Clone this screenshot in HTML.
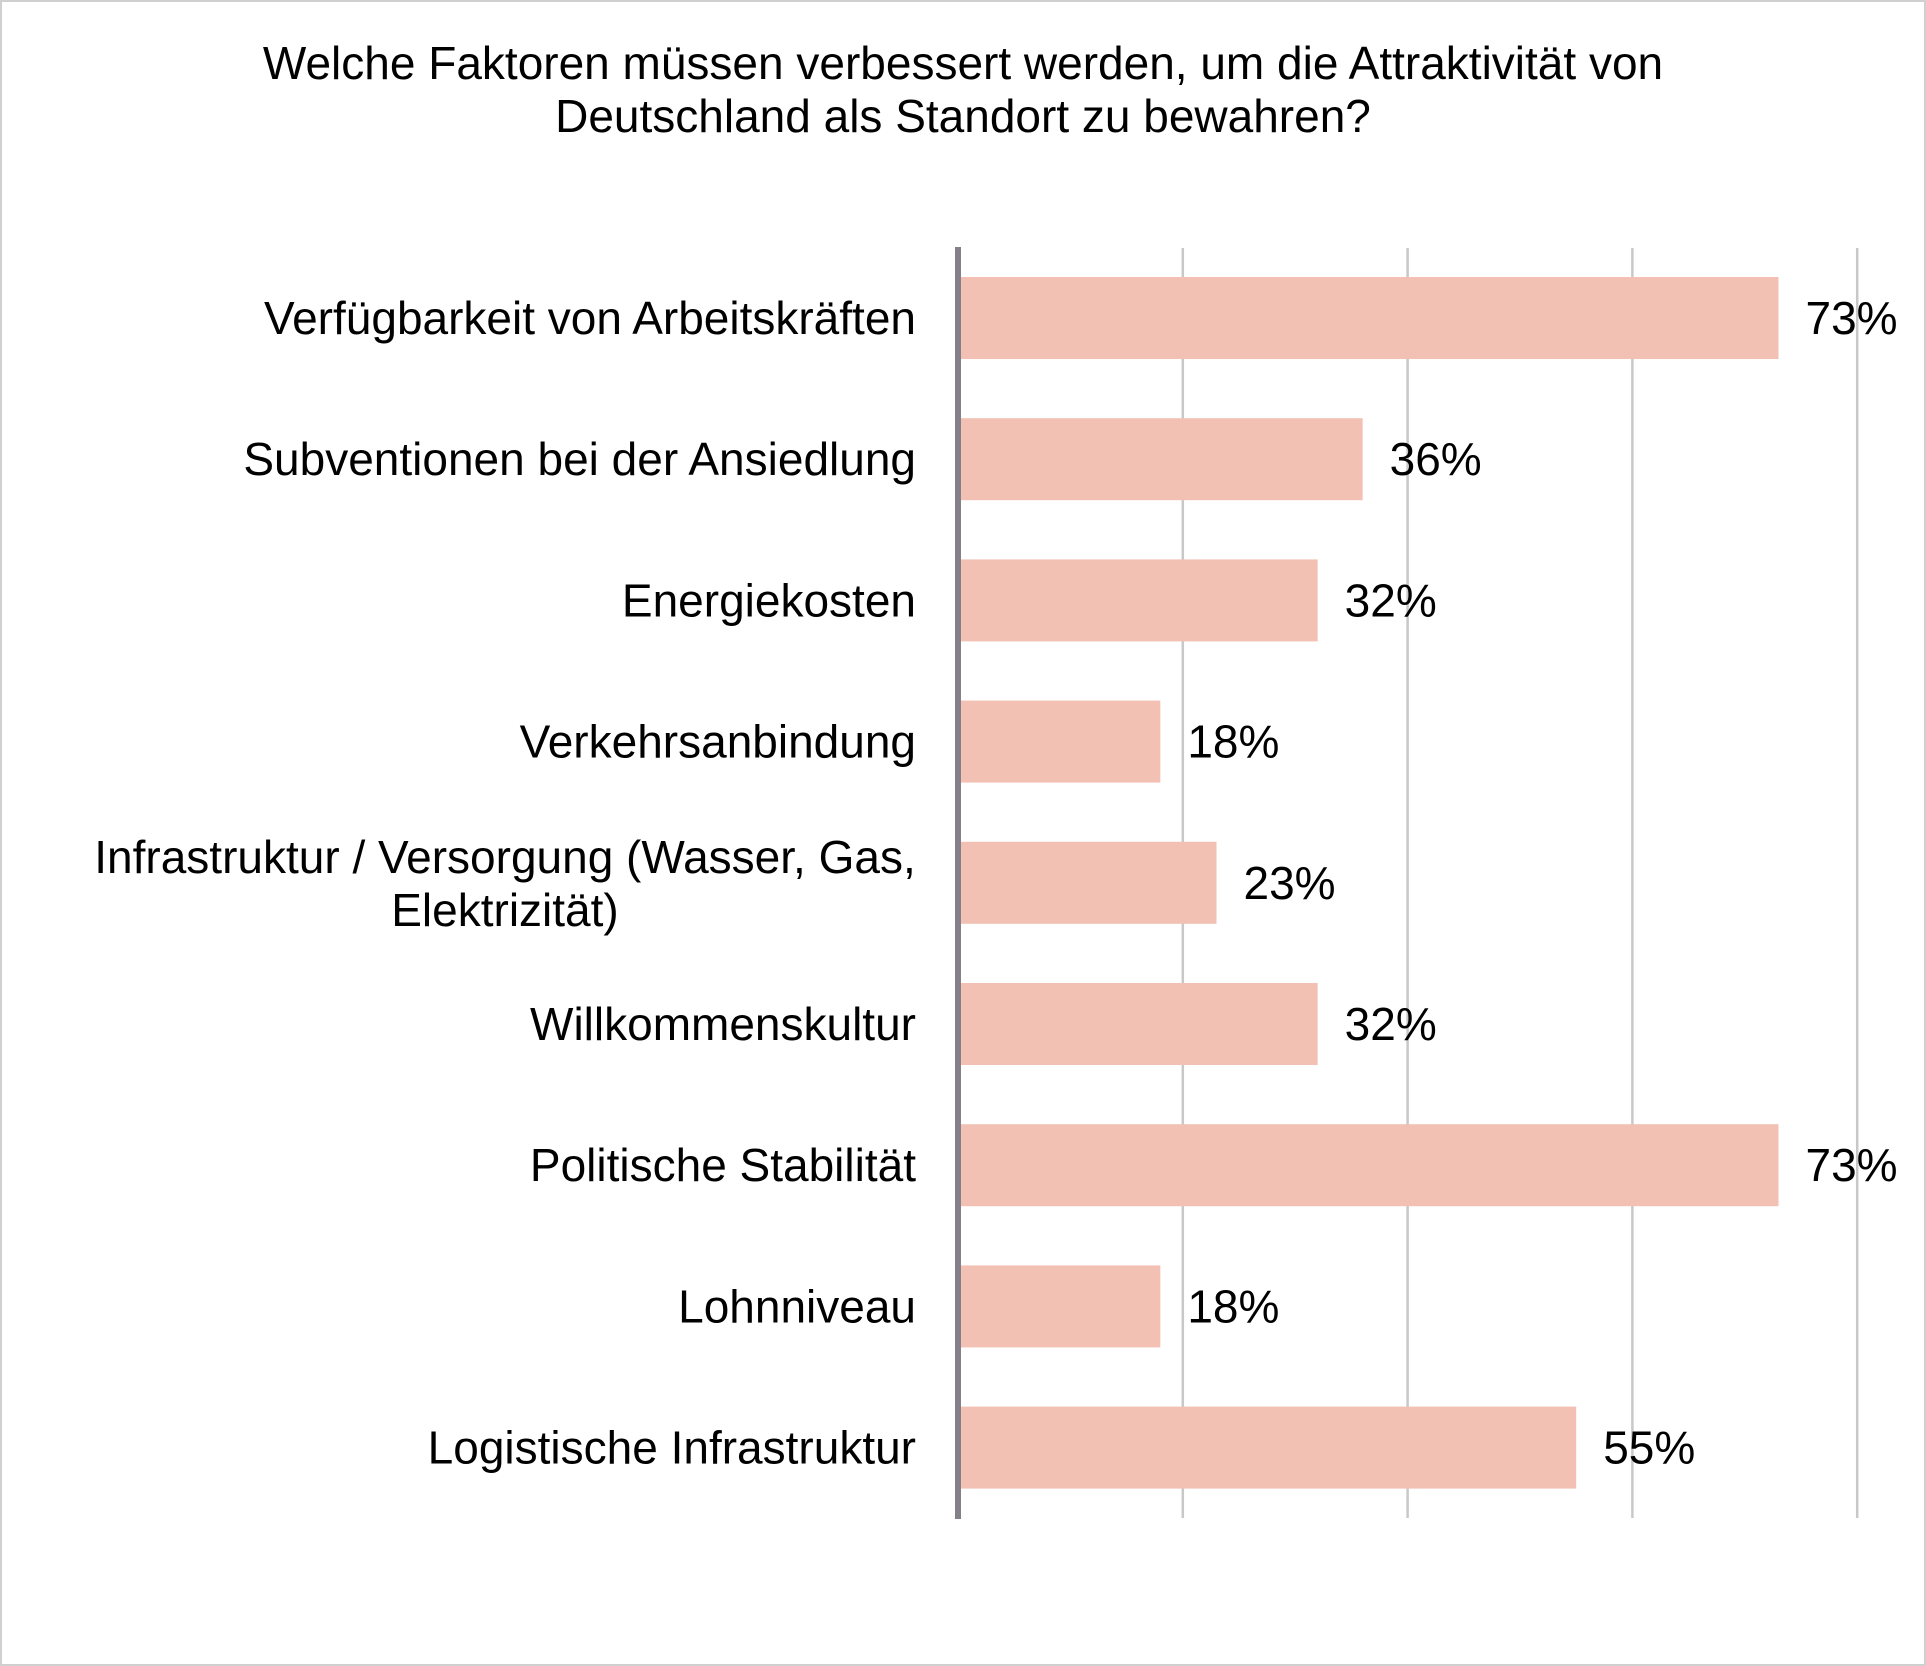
<!DOCTYPE html>
<html><head><meta charset="utf-8"><style>
body{margin:0;background:#fff;}
svg{display:block;font-family:"Liberation Sans",Arial,sans-serif;}
</style></head><body>
<svg id="chart" width="1926" height="1666" viewBox="0 0 1926 1666">
<rect x="1" y="1" width="1924" height="1664" fill="#fff" stroke="#d0d0d0" stroke-width="2"/>
<text x="963" y="79" text-anchor="middle" font-size="46" fill="#000">Welche Faktoren müssen verbessert werden, um die Attraktivität von</text>
<text x="963" y="132" text-anchor="middle" font-size="46" fill="#000">Deutschland als Standort zu bewahren?</text>
<g id="grid"></g><g id="bars"></g><g id="labels"></g>
</svg>
<script>
const categories=["Verfügbarkeit von Arbeitskräften","Subventionen bei der Ansiedlung","Energiekosten","Verkehrsanbindung","Infrastruktur / Versorgung (Wasser, Gas,|Elektrizität)","Willkommenskultur","Politische Stabilität","Lohnniveau","Logistische Infrastruktur"];
const values=[73,36,32,18,23,32,73,18,55];
const valueLabels=["73%","36%","32%","18%","23%","32%","73%","18%","55%"];
const gridTicks=[20,40,60,80];
const NS="http://www.w3.org/2000/svg";
const x0=958,pxPer=11.24,top0=277,pitch=141.2,barH=82;
const xs=v=>x0+v*pxPer;
const ys=i=>top0+i*pitch;
function mk(t,a,p){const e=document.createElementNS(NS,t);for(const k in a)e.setAttribute(k,a[k]);p.appendChild(e);return e;}
const G=document.getElementById('grid'),B=document.getElementById('bars'),L=document.getElementById('labels');
gridTicks.forEach(t=>{
 const l=mk('line',{x1:xs(t),x2:xs(t),y1:248,y2:1518,stroke:'#c8c8c8','stroke-width':2.5},G);
 
 
});
values.forEach((v,i)=>{
 const r=mk('rect',{x:x0,y:ys(i),width:v*pxPer,height:barH,fill:'#f2c1b3'},B);
 
 
 const cy=ys(i)+barH/2;
 const vt=mk('text',{x:xs(v)+27,y:cy+16,'font-size':46,fill:'#000'},L);
 vt.textContent=valueLabels[i];
 
 
 const parts=categories[i].split('|');
 if(parts.length===1){
  const t=mk('text',{x:916,y:cy+16,'text-anchor':'end','font-size':46,fill:'#000'},L);
  t.textContent=parts[0];
  
  
 }else{
  parts.forEach((p,j)=>{
   const t=mk('text',{x:505,y:cy-10+j*53,'text-anchor':'middle','font-size':46,fill:'#000'},L);
   t.textContent=p;
   
   
  });
 }
});
const ax=mk('line',{x1:x0,x2:x0,y1:247,y2:1519,stroke:'#838087','stroke-width':6},document.getElementById('chart'));


</script>
</body></html>
